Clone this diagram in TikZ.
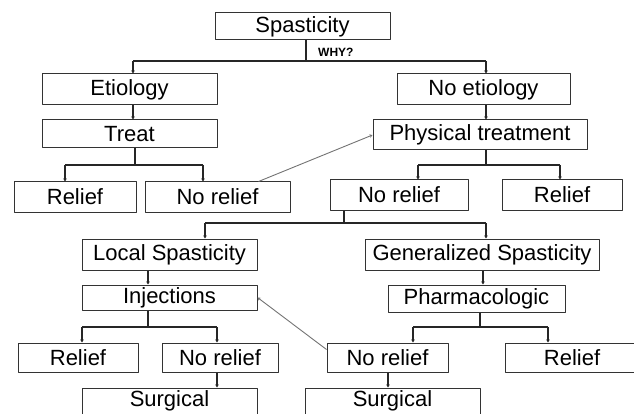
\documentclass[tikz,border=0pt]{standalone}
\usepackage{fontspec}
\setmainfont{Liberation Sans}
\usetikzlibrary{arrows.meta}
\tikzset{
    box/.style={draw=black!80, line width=1pt, inner sep=0pt, fill=white,
        font=\fontsize{22}{24}\selectfont},
    tree/.style={black!85, line width=1.2pt},
    link/.style={black!55, line width=0.9pt},
}
\begin{document}
\begin{tikzpicture}[x=1pt, y=-1pt, line join=round, >={Stealth[length=3pt,width=3.5pt]}]
    \useasboundingbox (0,0) rectangle (634,414);
    % first levels
    \node[box, minimum width=175pt, minimum height=27pt] (spast) at (302.5,26.5) {Spasticity};
    \node[font=\bfseries\fontsize{12}{13}\selectfont, anchor=west, inner sep=0pt] (why) at (318,52) {WHY?};
    \node[box, minimum width=175pt, minimum height=31pt] (etio) at (129.5,89.5) {Etiology};
    \node[box, minimum width=173pt, minimum height=31pt] (noetio) at (483.5,89.5) {No etiology};
    \node[box, minimum width=175pt, minimum height=28pt] (treat) at (129.5,134) {Treat};
    \node[box, minimum width=214pt, minimum height=30pt] (phys) at (480,135) {Physical treatment};
    \node[box, minimum width=122pt, minimum height=30pt] (reliefA) at (75,197) {Relief};
    \node[box, minimum width=145pt, minimum height=30pt] (noreliefA) at (217.5,197) {No relief};
    \node[box, minimum width=138pt, minimum height=30pt] (noreliefB) at (399,195) {No relief};
    \node[box, minimum width=120pt, minimum height=30pt] (reliefB) at (562,195) {Relief};
    % local / generalized
    \node[box, minimum width=175pt, minimum height=31pt] (local) at (169.5,254.5) {Local Spasticity};
    \node[box, minimum width=234pt, minimum height=31pt] (general) at (482,254.5) {Generalized Spasticity};
    \node[box, minimum width=175pt, minimum height=25pt] (inject) at (169.5,297.5) {Injections};
    \node[box, minimum width=177pt, minimum height=27pt] (pharm) at (476.5,298.5) {Pharmacologic};
    \node[box, minimum width=120pt, minimum height=29pt] (reliefC) at (78,357.5) {Relief};
    \node[box, minimum width=116pt, minimum height=29pt] (noreliefC) at (220,357.5) {No relief};
    \node[box, minimum width=121pt, minimum height=29pt] (noreliefD) at (387.5,357.5) {No relief};
    \node[box, minimum width=134pt, minimum height=29pt] (reliefD) at (572,357.5) {Relief};
    \node[box, minimum width=175pt, minimum height=26pt] (surgA) at (169.5,401) {Surgical};
    \node[box, minimum width=175pt, minimum height=26pt] (surgB) at (392.5,401) {Surgical};
    % forks
    \foreach \p/\px/\fy/\a/\ax/\b/\bx in {spast/306/61/etio/133/noetio/486,
        treat/135/165/reliefA/65/noreliefA/203, phys/486/165/noreliefB/418/reliefB/560,
        noreliefB/344/223/local/205/general/486, inject/148/327/reliefC/82/noreliefC/217,
        pharm/480/327/noreliefD/413/reliefD/548}{
        \draw[tree] (\p.south -| \px,0) -- (\px,\fy);
        \draw[tree] (\ax,\fy) -- (\bx,\fy);
        \draw[tree,->] (\ax,\fy) -- (\a.north -| \ax,0);
        \draw[tree,->] (\bx,\fy) -- (\b.north -| \bx,0);
    }
    % single links
    \foreach \p/\c/\x in {etio/treat/133, noetio/phys/486, local/inject/148,
        general/pharm/483, noreliefC/surgA/217, noreliefD/surgB/388}
    \draw[tree,->] (\p.south -| \x,0) -- (\c.north -| \x,0);
    % back links
    \draw[link,->] ([xshift=-32pt]noreliefA.north east) -- (phys.west);
    \draw[link,->] ([yshift=-7pt]noreliefD.north west) -- (inject.east);
\end{tikzpicture}
\end{document}
